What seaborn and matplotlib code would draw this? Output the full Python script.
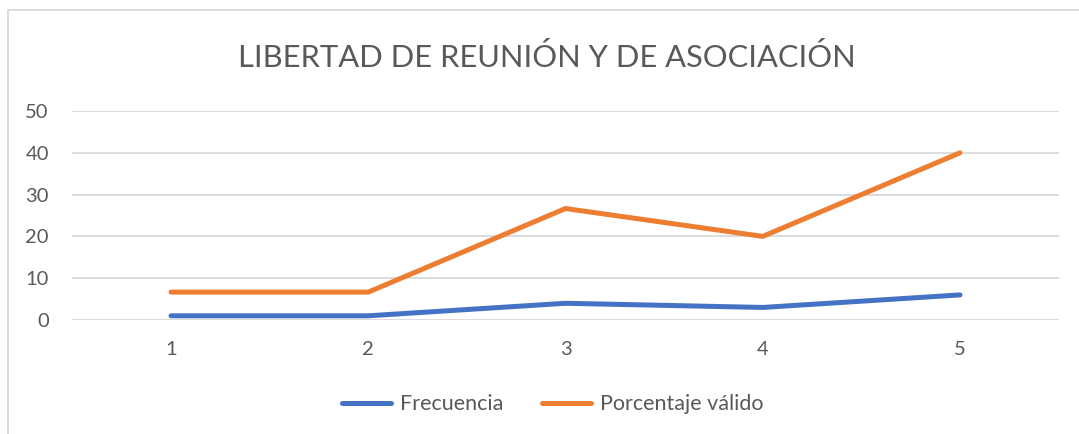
import matplotlib
matplotlib.use("Agg")
import matplotlib.pyplot as plt
import seaborn as sns
import pandas as pd
from matplotlib.patches import Rectangle

categorias = [1, 2, 3, 4, 5]
frecuencia = [1, 1, 4, 3, 6]
porcentaje = [6.67, 6.67, 26.67, 20.0, 40.0]
series = ["Frecuencia", "Porcentaje válido"]

df = pd.DataFrame({
    "cat": categorias * 2,
    "valor": frecuencia + porcentaje,
    "serie": [series[0]] * 5 + [series[1]] * 5,
})

sns.set_theme(style="white")
plt.rcParams['font.family'] = ['Lato', 'DejaVu Sans']

fig = plt.figure(figsize=(10.79, 4.34), dpi=100)
ax = fig.add_axes([0.0671, 0.2627, 0.914, 0.4815])

sns.lineplot(data=df, x="cat", y="valor", hue="serie", ax=ax,
             palette=["#4472C4", "#ED7D31"], linewidth=3.6, legend=True)

ax.set_xlim(0.5, 5.5)
ax.set_ylim(0, 50)
ax.set_xticks(categorias)
ax.set_yticks([0, 10, 20, 30, 40, 50])
ax.yaxis.grid(True, color="#D9D9D9", linewidth=1.3)
ax.set_axisbelow(True)
for s in ax.spines.values():
    s.set_visible(False)
ax.tick_params(axis="both", length=0, labelsize=14.5, labelcolor="#595959")
ax.tick_params(axis="x", pad=15)
ax.tick_params(axis="y", pad=17)
ax.set_xlabel("")
ax.set_ylabel("")

leg = ax.legend(loc="center", bbox_to_anchor=(0.512, 0.0688), bbox_transform=fig.transFigure,
                ncol=2, frameon=False, fontsize=15.5, handlelength=2.3, columnspacing=1.8,
                handletextpad=0.4)
for t in leg.get_texts():
    t.set_color("#595959")

fig.text(0.507, 0.868, "LIBERTAD DE REUNIÓN Y DE ASOCIACIÓN", ha="center", va="center",
         fontsize=22.2, color="#595959", fontweight="normal")

fig.patches.append(Rectangle((8 / 1079, -0.1), 1.2, (434 - 10) / 434 + 0.1,
                             transform=fig.transFigure, fill=False,
                             edgecolor="#D9D9D9", linewidth=1.3))

fig.savefig("out.png", dpi=100)
